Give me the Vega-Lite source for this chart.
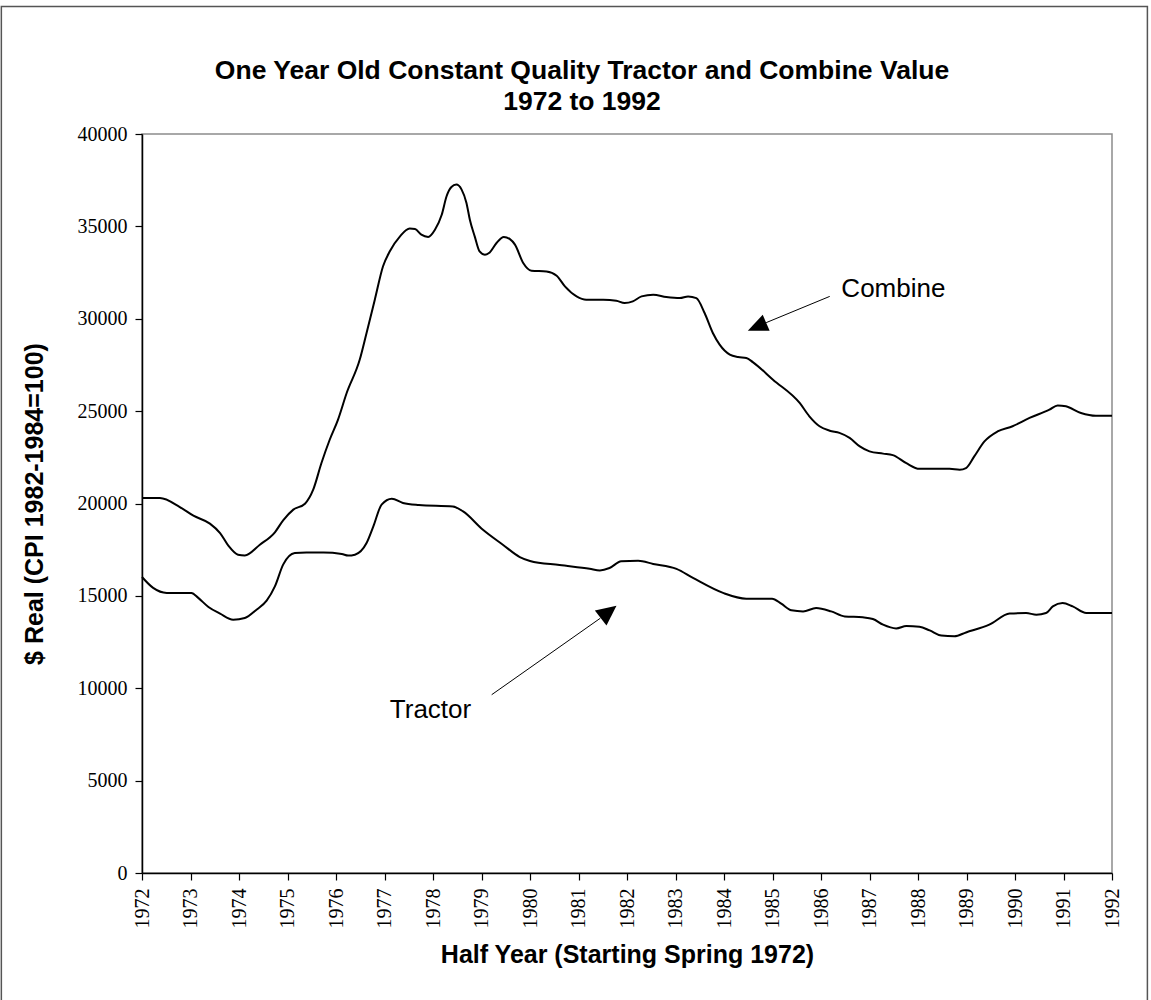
{
  "$schema": "https://vega.github.io/schema/vega-lite/v6.json",
  "autosize": {"type": "none"},
  "width": 970,
  "height": 739,
  "padding": {"left": 142, "top": 134, "right": 39, "bottom": 127},
  "background": "white",
  "config": {
    "view": {"stroke": "#8c8c8c", "strokeWidth": 1.5},
    "axis": {"grid": false, "domainColor": "black", "domainWidth": 1.5, "tickColor": "black", "tickWidth": 1.2, "labelColor": "black", "titleColor": "black", "labelFont": "Liberation Serif", "labelFontSize": 20, "titleFont": "Liberation Sans", "titleFontSize": 25, "titleFontWeight": "bold"}
  },
  "title": {
    "text": ["One Year Old Constant Quality Tractor and Combine Value", "1972 to 1992"],
    "font": "Liberation Sans", "fontSize": 26.5, "fontWeight": "bold", "color": "black",
    "lineHeight": 31, "offset": -110, "anchor": "middle", "frame": "group", "dx": -45
  },
  "datasets": {
    "series": [
      {"series": "Combine", "t": 1972.0, "v": 20300},
      {"series": "Combine", "t": 1972.37, "v": 20300},
      {"series": "Combine", "t": 1972.78, "v": 19810},
      {"series": "Combine", "t": 1973.06, "v": 19340},
      {"series": "Combine", "t": 1973.40, "v": 18910},
      {"series": "Combine", "t": 1973.61, "v": 18400},
      {"series": "Combine", "t": 1973.78, "v": 17720},
      {"series": "Combine", "t": 1973.98, "v": 17230},
      {"series": "Combine", "t": 1974.12, "v": 17190},
      {"series": "Combine", "t": 1974.43, "v": 17770},
      {"series": "Combine", "t": 1974.74, "v": 18440},
      {"series": "Combine", "t": 1974.91, "v": 19090},
      {"series": "Combine", "t": 1975.12, "v": 19670},
      {"series": "Combine", "t": 1975.36, "v": 19990},
      {"series": "Combine", "t": 1975.53, "v": 20750},
      {"series": "Combine", "t": 1975.70, "v": 22190},
      {"series": "Combine", "t": 1975.87, "v": 23450},
      {"series": "Combine", "t": 1976.04, "v": 24530},
      {"series": "Combine", "t": 1976.22, "v": 25980},
      {"series": "Combine", "t": 1976.49, "v": 27790},
      {"series": "Combine", "t": 1976.63, "v": 29230},
      {"series": "Combine", "t": 1976.80, "v": 31030},
      {"series": "Combine", "t": 1976.97, "v": 32840},
      {"series": "Combine", "t": 1977.11, "v": 33650},
      {"series": "Combine", "t": 1977.32, "v": 34460},
      {"series": "Combine", "t": 1977.52, "v": 34880},
      {"series": "Combine", "t": 1977.63, "v": 34860},
      {"series": "Combine", "t": 1977.76, "v": 34550},
      {"series": "Combine", "t": 1977.90, "v": 34430},
      {"series": "Combine", "t": 1978.04, "v": 34820},
      {"series": "Combine", "t": 1978.18, "v": 35630},
      {"series": "Combine", "t": 1978.28, "v": 36630},
      {"series": "Combine", "t": 1978.38, "v": 37130},
      {"series": "Combine", "t": 1978.48, "v": 37260},
      {"series": "Combine", "t": 1978.59, "v": 36990},
      {"series": "Combine", "t": 1978.69, "v": 36270},
      {"series": "Combine", "t": 1978.76, "v": 35360},
      {"series": "Combine", "t": 1978.86, "v": 34460},
      {"series": "Combine", "t": 1978.96, "v": 33650},
      {"series": "Combine", "t": 1979.07, "v": 33470},
      {"series": "Combine", "t": 1979.17, "v": 33590},
      {"series": "Combine", "t": 1979.31, "v": 34100},
      {"series": "Combine", "t": 1979.46, "v": 34430},
      {"series": "Combine", "t": 1979.58, "v": 34320},
      {"series": "Combine", "t": 1979.69, "v": 34010},
      {"series": "Combine", "t": 1979.86, "v": 33020},
      {"series": "Combine", "t": 1980.03, "v": 32600},
      {"series": "Combine", "t": 1980.34, "v": 32560},
      {"series": "Combine", "t": 1980.55, "v": 32330},
      {"series": "Combine", "t": 1980.72, "v": 31750},
      {"series": "Combine", "t": 1980.96, "v": 31210},
      {"series": "Combine", "t": 1981.16, "v": 31030},
      {"series": "Combine", "t": 1981.51, "v": 31030},
      {"series": "Combine", "t": 1981.78, "v": 30980},
      {"series": "Combine", "t": 1981.95, "v": 30850},
      {"series": "Combine", "t": 1982.12, "v": 30940},
      {"series": "Combine", "t": 1982.30, "v": 31210},
      {"series": "Combine", "t": 1982.54, "v": 31300},
      {"series": "Combine", "t": 1982.81, "v": 31180},
      {"series": "Combine", "t": 1983.09, "v": 31120},
      {"series": "Combine", "t": 1983.26, "v": 31210},
      {"series": "Combine", "t": 1983.43, "v": 31120},
      {"series": "Combine", "t": 1983.60, "v": 30310},
      {"series": "Combine", "t": 1983.77, "v": 29230},
      {"series": "Combine", "t": 1983.91, "v": 28600},
      {"series": "Combine", "t": 1984.12, "v": 28060},
      {"series": "Combine", "t": 1984.29, "v": 27930},
      {"series": "Combine", "t": 1984.46, "v": 27880},
      {"series": "Combine", "t": 1984.60, "v": 27640},
      {"series": "Combine", "t": 1985.01, "v": 26700},
      {"series": "Combine", "t": 1985.56, "v": 25440},
      {"series": "Combine", "t": 1985.76, "v": 24720},
      {"series": "Combine", "t": 1985.97, "v": 24180},
      {"series": "Combine", "t": 1986.18, "v": 23940},
      {"series": "Combine", "t": 1986.38, "v": 23820},
      {"series": "Combine", "t": 1986.59, "v": 23550},
      {"series": "Combine", "t": 1986.80, "v": 23090},
      {"series": "Combine", "t": 1987.00, "v": 22820},
      {"series": "Combine", "t": 1987.28, "v": 22700},
      {"series": "Combine", "t": 1987.48, "v": 22620},
      {"series": "Combine", "t": 1987.76, "v": 22180},
      {"series": "Combine", "t": 1988.03, "v": 21880},
      {"series": "Combine", "t": 1988.24, "v": 21880},
      {"series": "Combine", "t": 1988.65, "v": 21880},
      {"series": "Combine", "t": 1988.86, "v": 21830},
      {"series": "Combine", "t": 1988.99, "v": 21920},
      {"series": "Combine", "t": 1989.16, "v": 22550},
      {"series": "Combine", "t": 1989.37, "v": 23360},
      {"series": "Combine", "t": 1989.64, "v": 23900},
      {"series": "Combine", "t": 1989.95, "v": 24180},
      {"series": "Combine", "t": 1990.30, "v": 24630},
      {"series": "Combine", "t": 1990.71, "v": 25080},
      {"series": "Combine", "t": 1990.88, "v": 25310},
      {"series": "Combine", "t": 1991.05, "v": 25260},
      {"series": "Combine", "t": 1991.36, "v": 24900},
      {"series": "Combine", "t": 1991.67, "v": 24750},
      {"series": "Combine", "t": 1992.0, "v": 24750},
      {"series": "Tractor", "t": 1972.0, "v": 16020},
      {"series": "Tractor", "t": 1972.23, "v": 15430},
      {"series": "Tractor", "t": 1972.51, "v": 15160},
      {"series": "Tractor", "t": 1973.02, "v": 15160},
      {"series": "Tractor", "t": 1973.16, "v": 14890},
      {"series": "Tractor", "t": 1973.37, "v": 14400},
      {"series": "Tractor", "t": 1973.61, "v": 14040},
      {"series": "Tractor", "t": 1973.88, "v": 13710},
      {"series": "Tractor", "t": 1974.12, "v": 13800},
      {"series": "Tractor", "t": 1974.36, "v": 14250},
      {"series": "Tractor", "t": 1974.57, "v": 14740},
      {"series": "Tractor", "t": 1974.74, "v": 15510},
      {"series": "Tractor", "t": 1974.91, "v": 16690},
      {"series": "Tractor", "t": 1975.15, "v": 17320},
      {"series": "Tractor", "t": 1975.39, "v": 17350},
      {"series": "Tractor", "t": 1975.74, "v": 17350},
      {"series": "Tractor", "t": 1976.12, "v": 17270},
      {"series": "Tractor", "t": 1976.25, "v": 17180},
      {"series": "Tractor", "t": 1976.39, "v": 17230},
      {"series": "Tractor", "t": 1976.63, "v": 17860},
      {"series": "Tractor", "t": 1976.77, "v": 18760},
      {"series": "Tractor", "t": 1976.94, "v": 19940},
      {"series": "Tractor", "t": 1977.15, "v": 20260},
      {"series": "Tractor", "t": 1977.38, "v": 20030},
      {"series": "Tractor", "t": 1977.71, "v": 19920},
      {"series": "Tractor", "t": 1978.41, "v": 19840},
      {"series": "Tractor", "t": 1978.62, "v": 19570},
      {"series": "Tractor", "t": 1979.03, "v": 18580},
      {"series": "Tractor", "t": 1979.44, "v": 17770},
      {"series": "Tractor", "t": 1979.79, "v": 17100},
      {"series": "Tractor", "t": 1980.00, "v": 16890},
      {"series": "Tractor", "t": 1980.61, "v": 16670},
      {"series": "Tractor", "t": 1981.23, "v": 16470},
      {"series": "Tractor", "t": 1981.44, "v": 16380},
      {"series": "Tractor", "t": 1981.64, "v": 16510},
      {"series": "Tractor", "t": 1981.88, "v": 16870},
      {"series": "Tractor", "t": 1982.23, "v": 16900},
      {"series": "Tractor", "t": 1982.54, "v": 16730},
      {"series": "Tractor", "t": 1983.02, "v": 16460},
      {"series": "Tractor", "t": 1983.36, "v": 15970},
      {"series": "Tractor", "t": 1983.98, "v": 15160},
      {"series": "Tractor", "t": 1984.46, "v": 14850},
      {"series": "Tractor", "t": 1984.99, "v": 14850},
      {"series": "Tractor", "t": 1985.18, "v": 14580},
      {"series": "Tractor", "t": 1985.39, "v": 14220},
      {"series": "Tractor", "t": 1985.63, "v": 14160},
      {"series": "Tractor", "t": 1985.90, "v": 14340},
      {"series": "Tractor", "t": 1986.21, "v": 14160},
      {"series": "Tractor", "t": 1986.49, "v": 13890},
      {"series": "Tractor", "t": 1986.86, "v": 13840},
      {"series": "Tractor", "t": 1987.07, "v": 13750},
      {"series": "Tractor", "t": 1987.28, "v": 13440},
      {"series": "Tractor", "t": 1987.55, "v": 13240},
      {"series": "Tractor", "t": 1987.76, "v": 13370},
      {"series": "Tractor", "t": 1988.03, "v": 13330},
      {"series": "Tractor", "t": 1988.24, "v": 13130},
      {"series": "Tractor", "t": 1988.48, "v": 12850},
      {"series": "Tractor", "t": 1988.75, "v": 12810},
      {"series": "Tractor", "t": 1988.99, "v": 13020},
      {"series": "Tractor", "t": 1989.47, "v": 13440},
      {"series": "Tractor", "t": 1989.89, "v": 14040},
      {"series": "Tractor", "t": 1990.23, "v": 14070},
      {"series": "Tractor", "t": 1990.44, "v": 13980},
      {"series": "Tractor", "t": 1990.64, "v": 14070},
      {"series": "Tractor", "t": 1990.78, "v": 14430},
      {"series": "Tractor", "t": 1990.98, "v": 14610},
      {"series": "Tractor", "t": 1991.19, "v": 14430},
      {"series": "Tractor", "t": 1991.47, "v": 14070},
      {"series": "Tractor", "t": 1992.0, "v": 14070}
    ],
    "arrows": [
      {"arrow": "Combine", "t": 1986.18, "v": 31210},
      {"arrow": "Combine", "t": 1984.87, "v": 29790},
      {"arrow": "Tractor", "t": 1979.21, "v": 9650},
      {"arrow": "Tractor", "t": 1981.45, "v": 13790}
    ],
    "labels": [
      {"label": "Combine", "t": 1986.42, "v": 31630},
      {"label": "Tractor", "t": 1977.11, "v": 8800}
    ]
  },
  "layer": [
    {
      "data": {"values": [{"frame": "outer"}]},
      "mark": {"type": "rect", "fill": "white", "fillOpacity": 0, "stroke": "#555555", "strokeWidth": 1.5, "clip": false},
      "encoding": {
        "x": {"datum": 1969.1, "type": "quantitative", "scale": {"domain": [1972, 1992], "nice": false, "zero": false}},
        "x2": {"datum": 1992.73},
        "y": {"datum": 46900, "type": "quantitative", "scale": {"domain": [0, 40000], "nice": false}},
        "y2": {"datum": -7100}
      }
    },
    {
      "data": {"name": "series"},
      "mark": {"type": "line", "interpolate": "monotone", "color": "black", "strokeWidth": 2},
      "encoding": {
        "x": {
          "field": "t", "type": "quantitative",
          "scale": {"domain": [1972, 1992], "nice": false, "zero": false},
          "axis": {
            "title": "Half Year (Starting Spring 1972)",
            "values": [1972, 1972.5, 1973, 1973.5, 1974, 1974.5, 1975, 1975.5, 1976, 1976.5, 1977, 1977.5, 1978, 1978.5, 1979, 1979.5, 1980, 1980.5, 1981, 1981.5, 1982, 1982.5, 1983, 1983.5, 1984, 1984.5, 1985, 1985.5, 1986, 1986.5, 1987, 1987.5, 1988, 1988.5, 1989, 1989.5, 1990, 1990.5, 1991, 1991.5, 1992],
            "labelExpr": "datum.value % 1 === 0 ? '' + datum.value : ''",
            "labelAngle": -90, "labelAlign": "right", "labelBaseline": "middle",
            "tickSize": 7, "labelPadding": 8, "labelOverlap": false, "labelFlush": false,
            "titlePadding": 14
          }
        },
        "y": {
          "field": "v", "type": "quantitative",
          "scale": {"domain": [0, 40000], "nice": false},
          "axis": {
            "title": "$ Real (CPI 1982-1984=100)",
            "values": [0, 5000, 10000, 15000, 20000, 25000, 30000, 35000, 40000],
            "format": "d", "tickSize": 7, "labelPadding": 8, "titlePadding": 30
          }
        },
        "detail": {"field": "series", "type": "nominal"}
      }
    },
    {
      "data": {"name": "arrows"},
      "mark": {"type": "line", "color": "black", "strokeWidth": 1},
      "encoding": {
        "x": {"field": "t", "type": "quantitative"},
        "y": {"field": "v", "type": "quantitative"},
        "detail": {"field": "arrow", "type": "nominal"}
      }
    },
    {
      "data": {"values": [{"head": "Combine", "t": 1984.68, "v": 29570}]},
      "mark": {"type": "point", "shape": "M-0.87,1L0,-1L0.87,1Z", "filled": true, "color": "black", "opacity": 1, "size": 400, "angle": 246.6},
      "encoding": {
        "x": {"field": "t", "type": "quantitative"},
        "y": {"field": "v", "type": "quantitative"}
      }
    },
    {
      "data": {"values": [{"head": "Tractor", "t": 1981.62, "v": 14130}]},
      "mark": {"type": "point", "shape": "M-0.95,1L0,-1L0.95,1Z", "filled": true, "color": "black", "opacity": 1, "size": 400, "angle": 52.3},
      "encoding": {
        "x": {"field": "t", "type": "quantitative"},
        "y": {"field": "v", "type": "quantitative"}
      }
    },
    {
      "data": {"name": "labels"},
      "mark": {"type": "text", "align": "left", "baseline": "middle", "font": "Liberation Sans", "fontSize": 26, "color": "black"},
      "encoding": {
        "x": {"field": "t", "type": "quantitative"},
        "y": {"field": "v", "type": "quantitative"},
        "text": {"field": "label", "type": "nominal"}
      }
    }
  ]
}
